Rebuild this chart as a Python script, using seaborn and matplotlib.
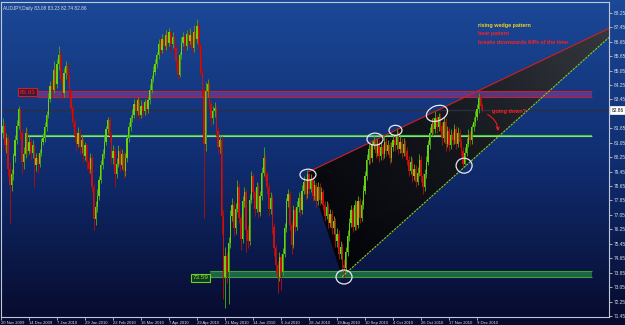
import numpy as np
import pandas as pd
import matplotlib
matplotlib.use("Agg")
import matplotlib.pyplot as plt
import matplotlib.transforms as mtransforms
from matplotlib.patches import Ellipse, Polygon
from matplotlib.colors import LinearSegmentedColormap
import seaborn as sns

# ---------------- data ----------------
chart_title = "AUDJPY,Daily 83.08 83.23 82.74 82.86"
first_open = 81.2
close = [
    81.6, 82.0, 80.9, 81.3, 79.6, 78.7, 79.3, 80.3, 81.2, 82.0,
    82.9, 81.6, 80.0, 80.4, 81.6, 80.6, 81.1, 80.5, 80.9, 79.8,
    80.2, 79.9, 80.5, 81.1, 81.3, 81.9, 82.6, 83.5, 84.2, 84.0,
    85.1, 84.3, 85.4, 85.9, 84.6, 83.8, 84.9, 85.3, 84.8, 83.9,
    83.0, 82.2, 81.4, 81.0, 81.6, 80.8, 81.2, 80.3, 80.9, 80.0,
    79.6, 80.2, 78.6, 76.8, 77.5, 78.1, 79.0, 79.8, 80.4, 81.1,
    81.8, 82.3, 81.4, 80.2, 80.6, 79.3, 79.9, 80.6, 79.8, 80.4,
    79.5, 80.2, 81.3, 81.9, 82.4, 82.6, 83.2, 82.8, 83.4, 82.6,
    83.1, 82.8, 83.3, 82.9, 83.4, 84.0, 84.6, 85.0, 85.4, 85.9,
    86.5, 86.2, 86.8, 86.4, 87.0, 86.6, 87.2, 86.5, 86.9, 86.3,
    85.6, 84.8, 85.9, 86.6, 86.9, 86.4, 87.1, 86.7, 87.0, 86.3,
    87.2, 86.8, 87.5, 86.4, 84.9, 84.0, 81.0, 83.9, 84.3, 83.2,
    82.4, 82.8, 83.0, 81.7, 80.8, 81.2, 77.0, 73.6, 74.8, 73.9,
    75.5, 77.0, 77.6, 76.3, 77.4, 78.6, 76.9, 75.7, 77.8, 78.3,
    76.2, 75.6, 77.9, 79.2, 78.3, 77.4, 78.6, 77.2, 78.1, 79.4,
    80.2, 79.3, 78.6, 77.4, 78.0, 76.4, 75.2, 74.3, 73.6, 74.7,
    73.9, 74.9, 76.3, 77.8, 78.2, 76.5, 75.4, 77.3, 76.4, 77.5,
    78.0, 77.3, 78.4, 78.9, 78.2, 79.3, 78.5, 79.0, 78.1, 78.7,
    77.8, 78.6, 77.9, 78.3, 77.6, 77.0, 77.5, 76.6, 77.1, 76.3,
    76.7, 75.6, 76.0, 74.9, 75.3, 74.3, 74.1, 75.0, 75.9, 76.6,
    77.3, 76.4, 77.6, 76.5, 77.8, 76.9, 77.6, 78.4, 79.2, 80.1,
    80.7, 80.2, 80.9, 81.2, 80.5, 81.0, 80.3, 80.8, 80.4, 81.1,
    80.6, 80.9, 80.2, 80.8, 81.2, 80.9, 81.5, 80.7, 81.1, 80.5,
    81.0, 80.6, 80.1, 79.5, 80.0, 79.2, 79.6, 78.9, 79.4, 80.1,
    79.2, 78.6, 79.3, 80.0, 80.9, 81.6, 82.1, 81.8, 82.4, 81.9,
    82.5, 82.0, 81.3, 82.2, 81.0, 81.7, 80.9, 81.5, 81.2, 81.8,
    81.0, 81.6, 81.1, 80.6, 79.9, 80.5, 81.0, 81.5, 81.2, 81.9,
    82.2, 82.5, 82.9, 83.55, 83.08, 82.86,
]
high = [
    82.3, 82.4, 82.2, 81.6, 81.5, 80.0, 79.6, 80.5, 81.5, 82.3,
    83.1, 83.0, 81.8, 80.8, 81.9, 81.8, 81.4, 81.3, 81.2, 81.0,
    80.5, 80.4, 80.7, 81.3, 81.6, 82.2, 82.8, 83.8, 84.5, 84.6,
    85.6, 85.3, 85.7, 86.4, 86.2, 84.9, 85.2, 85.6, 85.5, 85.0,
    84.1, 83.2, 82.4, 81.7, 81.9, 81.8, 81.5, 81.3, 81.1, 81.0,
    80.3, 80.5, 80.4, 78.8, 77.8, 78.5, 79.2, 80.1, 80.7, 81.4,
    82.0, 82.5, 82.5, 81.6, 80.9, 80.8, 80.2, 80.9, 80.8, 80.7,
    80.6, 80.5, 81.5, 82.2, 82.6, 82.9, 83.5, 83.6, 83.6, 83.6,
    83.4, 83.3, 83.5, 83.5, 83.6, 84.3, 84.8, 85.3, 85.7, 86.1,
    86.8, 86.9, 87.1, 87.0, 87.3, 87.2, 87.4, 87.3, 87.2, 87.1,
    86.5, 85.8, 86.1, 86.9, 87.2, 87.1, 87.3, 87.3, 87.4, 87.2,
    87.6, 87.5, 87.9, 87.7, 86.6, 85.2, 84.2, 84.4, 84.6, 84.5,
    83.4, 83.1, 83.3, 83.2, 81.9, 81.5, 81.4, 77.3, 75.3, 75.0,
    75.8, 77.3, 78.0, 77.8, 77.7, 79.0, 78.8, 77.1, 78.1, 78.6,
    78.5, 76.5, 78.2, 79.5, 79.4, 78.5, 78.9, 78.8, 78.4, 79.7,
    80.8, 80.4, 79.5, 78.8, 78.3, 78.2, 76.6, 75.4, 74.5, 75.0,
    74.9, 75.2, 76.6, 78.0, 78.5, 78.4, 76.7, 77.6, 77.5, 77.8,
    78.3, 78.2, 78.7, 79.2, 79.1, 79.55, 79.4, 79.3, 79.2, 79.0,
    78.9, 78.9, 78.8, 78.6, 78.5, 77.8, 77.8, 77.7, 77.4, 77.3,
    77.0, 76.9, 76.3, 76.2, 75.6, 75.5, 74.6, 75.3, 76.2, 76.9,
    77.6, 77.5, 77.9, 77.8, 78.1, 78.0, 77.9, 78.7, 79.5, 80.4,
    81.0, 80.9, 81.2, 81.4, 81.3, 81.3, 81.2, 81.1, 81.0, 81.4,
    81.3, 81.2, 81.1, 81.1, 81.5, 81.4, 81.85, 81.7, 81.4, 81.3,
    81.3, 81.2, 80.8, 80.3, 80.3, 80.2, 79.9, 79.8, 79.7, 80.4,
    80.3, 79.4, 79.6, 80.3, 81.2, 81.9, 82.4, 82.5, 82.8, 82.6,
    82.7, 82.7, 82.2, 82.5, 82.4, 82.0, 81.9, 81.8, 81.7, 82.1,
    82.0, 81.9, 81.8, 81.3, 80.8, 80.8, 81.3, 81.8, 81.7, 82.1,
    82.5, 82.8, 83.2, 83.8, 83.7, 83.23,
]
low = [
    80.9, 81.3, 80.6, 80.5, 79.2, 76.6, 78.4, 79.0, 80.0, 81.0,
    81.8, 81.3, 79.3, 79.6, 80.2, 80.3, 80.4, 80.1, 80.2, 78.6,
    79.5, 79.4, 79.7, 80.3, 80.9, 81.1, 81.7, 82.4, 83.3, 83.6,
    83.8, 84.0, 84.1, 85.1, 84.3, 83.4, 83.6, 84.6, 84.4, 83.6,
    82.7, 81.9, 81.1, 80.6, 80.8, 80.4, 80.5, 80.0, 80.1, 79.6,
    79.3, 79.4, 78.3, 76.2, 76.5, 77.2, 77.9, 78.8, 79.6, 80.2,
    80.9, 81.6, 81.1, 79.9, 79.9, 78.6, 79.1, 79.7, 79.5, 79.6,
    79.1, 79.2, 80.0, 81.1, 81.7, 82.2, 82.4, 82.5, 82.6, 82.3,
    82.4, 82.5, 82.6, 82.6, 82.7, 83.2, 83.8, 84.4, 84.8, 85.2,
    85.7, 85.9, 86.0, 86.1, 86.2, 86.3, 86.4, 86.1, 86.3, 86.0,
    85.2, 84.6, 84.7, 85.7, 86.4, 86.1, 86.2, 86.4, 86.5, 86.0,
    86.1, 86.5, 86.6, 86.2, 84.7, 83.7, 76.9, 80.6, 83.6, 82.9,
    82.0, 82.1, 82.5, 81.4, 80.4, 80.5, 76.0, 72.4, 71.9, 73.3,
    72.1, 75.2, 76.7, 75.9, 76.0, 77.2, 76.6, 75.1, 75.5, 77.5,
    75.0, 75.2, 75.4, 77.7, 78.0, 77.0, 77.2, 76.9, 77.0, 77.9,
    79.2, 79.0, 78.2, 77.0, 77.1, 76.0, 74.8, 73.9, 72.7, 73.4,
    72.9, 73.7, 74.7, 76.1, 77.5, 76.2, 74.9, 75.2, 76.1, 76.2,
    77.2, 77.0, 77.1, 78.2, 77.9, 78.0, 78.2, 78.3, 77.8, 77.9,
    77.5, 77.6, 77.6, 77.7, 77.3, 76.7, 76.8, 76.3, 76.4, 76.0,
    76.0, 75.3, 75.3, 74.6, 74.6, 74.0, 73.6, 73.9, 74.8, 75.6,
    76.4, 76.1, 76.2, 76.2, 76.3, 76.6, 76.7, 77.4, 78.2, 79.0,
    79.9, 79.9, 80.0, 80.7, 80.2, 80.3, 80.0, 80.1, 80.1, 80.2,
    80.3, 80.4, 79.9, 80.0, 80.6, 80.6, 80.7, 80.4, 80.5, 80.2,
    80.3, 80.3, 79.8, 79.2, 79.3, 78.9, 79.0, 78.6, 78.7, 79.2,
    78.9, 78.2, 78.4, 79.1, 79.8, 80.7, 81.4, 81.5, 81.6, 81.6,
    81.7, 81.7, 80.9, 81.1, 80.6, 80.8, 80.6, 80.7, 80.9, 81.0,
    80.7, 80.8, 80.8, 80.3, 79.7, 79.8, 80.3, 80.8, 80.9, 81.0,
    81.7, 82.0, 82.3, 82.7, 82.9, 82.74,
]
date_labels = ["20 Nov 2009", "14 Dec 2009", "7 Jan 2010", "29 Jan 2010",
               "22 Feb 2010", "16 Mar 2010", "7 Apr 2010", "29 Apr 2010",
               "21 May 2010", "14 Jun 2010", "6 Jul 2010", "28 Jul 2010",
               "19 Aug 2010", "10 Sep 2010", "4 Oct 2010", "26 Oct 2010",
               "17 Nov 2010", "9 Dec 2010"]
date_bars = [0, 16, 32, 48, 64, 80, 96, 112, 128, 144, 160, 176,
             192, 208, 224, 240, 256, 272]
price_ticks = [71.45, 72.25, 73.05, 73.85, 74.65, 75.45, 76.25, 77.05,
               77.85, 78.65, 79.45, 80.25, 81.05, 81.85, 83.45, 84.25,
               85.05, 85.85, 86.65, 87.45, 88.25]
last_price = 82.86
resistance_band = (83.59, 83.93)
support_band = (73.59, 73.94)
neckline = 81.44
wedge_upper = ([175.4, 347.4], [79.42, 87.39])
wedge_lower = ([194.9, 347.4], [73.63, 86.89])
circle_x = [175.4, 196.0, 213.7, 225.4, 249.1, 264.6]
circle_y = [79.28, 73.61, 81.25, 81.74, 82.68, 79.78]
circle_w = [16, 16, 16, 13, 22, 16]
circle_h = [11, 14, 12, 10, 15, 15]
circle_angle = [0, 0, 0, 0, 22, 0]
notes = ["rising wedge pattern", "bear pattern", "breaks downwards 64% of the time"]
note_colors = ["#f0d020", "#ff2020", "#ff2020"]
note_y = [87.55, 87.08, 86.61]

# ---------------- style ----------------
sns.set_style("dark", rc={"axes.facecolor": "none", "figure.facecolor": "#070a2c"})
plt.rcParams["font.family"] = ["Liberation Sans", "DejaVu Sans"]

fig = plt.figure(figsize=(6.25, 3.25), dpi=100)
bg = fig.add_axes([0, 0, 1, 1], zorder=-10)
grad = np.linspace(0, 1, 256).reshape(-1, 1)
cmap_bg = LinearSegmentedColormap.from_list("bg", ["#1b4897", "#102d70", "#070a2c"])
bg.imshow(grad, aspect="auto", cmap=cmap_bg, extent=[0, 1, 0, 1], origin="upper")
bg.set_axis_off()

ax = fig.add_axes([1 / 625, 8.5 / 325, 608 / 625, 315 / 325])
ax.set_facecolor("none")
ax.patch.set_alpha(0)

n = len(close)
opens = [first_open] + close[:-1]
df = pd.DataFrame({"bar": np.arange(n), "open": opens, "high": high,
                   "low": low, "close": close})
df["up"] = df["close"] >= df["open"]

XMIN, XMAX = 0, 347.4
YMIN, YMAX = 71.42, 88.88

# wedge fill (gradient clipped to polygon)
poly_pts = [(wedge_upper[0][0], wedge_upper[1][0]), (wedge_lower[0][0], wedge_lower[1][0]),
            (wedge_lower[0][1], wedge_lower[1][1]), (wedge_upper[0][1], wedge_upper[1][1])]
poly = Polygon(poly_pts, closed=True, facecolor="none", edgecolor="none")
ax.add_patch(poly)
wcmap = LinearSegmentedColormap.from_list("w", ["#000000", "#141414", "#383838"])
gx = np.linspace(0, 1, 256).reshape(1, -1)
gy = np.linspace(1, 0, 256).reshape(-1, 1)
gimg = 0.6 * gx + 0.4 * gy
im = ax.imshow(gimg, cmap=wcmap, aspect="auto", origin="upper",
               extent=[wedge_upper[0][0], XMAX, wedge_lower[1][0], wedge_upper[1][1]],
               zorder=1, alpha=0.92)
im.set_clip_path(poly)

# horizontal levels
ax.axhline(last_price, color="#2c2f40", lw=1.0, zorder=1.5)
ax.fill_between([20.8, 337.7], *resistance_band, color="#6b3a8e", alpha=0.8, lw=0, zorder=1.6)
ax.hlines(list(resistance_band), 20.8, 337.7, color="#b3263c", lw=0.8, zorder=1.7)
ax.fill_between([119.4, 337.7], *support_band, color="#1f6a45", alpha=0.95, lw=0, zorder=1.6)
ax.hlines(list(support_band), 119.4, 337.7, color="#3aa040", lw=0.8, zorder=1.7)
ax.hlines(neckline, 14.3, 337.7, color="#45c045", lw=1.6, zorder=1.7)
ax.hlines(neckline, 14.3, 337.7, color="#a8eea0", lw=0.5, zorder=1.8)

# candles
up_body, dn_body = "#6cd010", "#cc1010"
up_wick, dn_wick = "#3f9e18", "#a80f0f"
wick_colors = np.where(df["up"], up_wick, dn_wick)
body_colors = np.where(df["up"], up_body, dn_body)
ax.vlines(df["bar"], df["low"], df["high"], colors=wick_colors, lw=0.7, zorder=2)
ax.bar(df["bar"], df["close"] - df["open"], bottom=df["open"], width=0.7,
       color=body_colors, linewidth=0, zorder=2.5)

# wedge lines
sns.lineplot(x=wedge_upper[0], y=wedge_upper[1], ax=ax, color="#d02020", lw=0.8,
             estimator=None, zorder=3)
sns.lineplot(x=wedge_lower[0], y=wedge_lower[1], ax=ax, color="#8ccc20", lw=0.8,
             estimator=None, zorder=3, linestyle=(0, (2, 1)))

# circles
for cx, cy, w, h, a in zip(circle_x, circle_y, circle_w, circle_h, circle_angle):
    tr = mtransforms.ScaledTranslation(cx, cy, ax.transData)
    e = Ellipse((0, 0), w, h, angle=a, transform=tr, fill=False,
                edgecolor="#e8e8f0", lw=0.9, zorder=4)
    ax.add_artist(e)

# level label boxes
ax.text(15.4, 83.85, "83.93", color="#ff2020", fontsize=4.6, ha="center", va="center",
        zorder=5, bbox=dict(boxstyle="square,pad=0.25", fc="#3a1838", ec="#d02020", lw=0.8))
ax.text(114.2, 73.56, "73.59", color="#8fe020", fontsize=4.6, ha="center", va="center",
        zorder=5, bbox=dict(boxstyle="square,pad=0.25", fc="#0d3a22", ec="#6fd020", lw=0.8))

# notes
for t, c, y in zip(notes, note_colors, note_y):
    ax.text(272.6, y, t, color=c, fontsize=3.9, fontweight="bold", ha="left", va="center",
            zorder=5)
ax.text(280.6, 82.79, "going down?", color="#ff2020", fontsize=3.9, fontweight="bold",
        ha="left", va="center", zorder=5)
ax.annotate("", xy=(284.0, 81.55), xytext=(276.6, 82.68),
            arrowprops=dict(arrowstyle="->", color="#ff2020", lw=0.7,
                            connectionstyle="arc3,rad=-0.35", mutation_scale=5), zorder=5)

# title
ax.text(0.004, 0.985, chart_title, transform=ax.transAxes, color="#d8dee8",
        fontsize=3.4, ha="left", va="top", zorder=5)

# current price box on the axis
trb = mtransforms.blended_transform_factory(ax.transAxes, ax.transData)
ax.text(1.004, last_price, f"{last_price:.2f}", transform=trb, color="#000000",
        fontsize=3.4, ha="left", va="center", zorder=6, clip_on=False,
        bbox=dict(boxstyle="square,pad=0.25", fc="#ffffff", ec="#ffffff", lw=0.5))

# axes
ax.set_xlim(XMIN, XMAX)
ax.set_ylim(YMIN, YMAX)
ax.set_xticks(date_bars)
ax.set_xticklabels(date_labels, ha="left")
ax.yaxis.tick_right()
ax.set_yticks(price_ticks)
ax.set_yticklabels([f"{p:.2f}" for p in price_ticks])
ax.tick_params(axis="x", length=2, width=0.6, color="#c0c8d8", labelsize=3.0,
               labelcolor="#d8dee8", pad=1, bottom=True)
ax.tick_params(axis="y", length=2, width=0.6, color="#c0c8d8", labelsize=3.4,
               labelcolor="#d8dee8", pad=1.5, right=True, left=False)
ax.set_xlabel("")
ax.set_ylabel("")
for s in ax.spines.values():
    s.set_visible(True)
    s.set_color("#c0c8d8")
    s.set_linewidth(0.8)
ax.grid(False)

fig.savefig("out.png", dpi=100)
